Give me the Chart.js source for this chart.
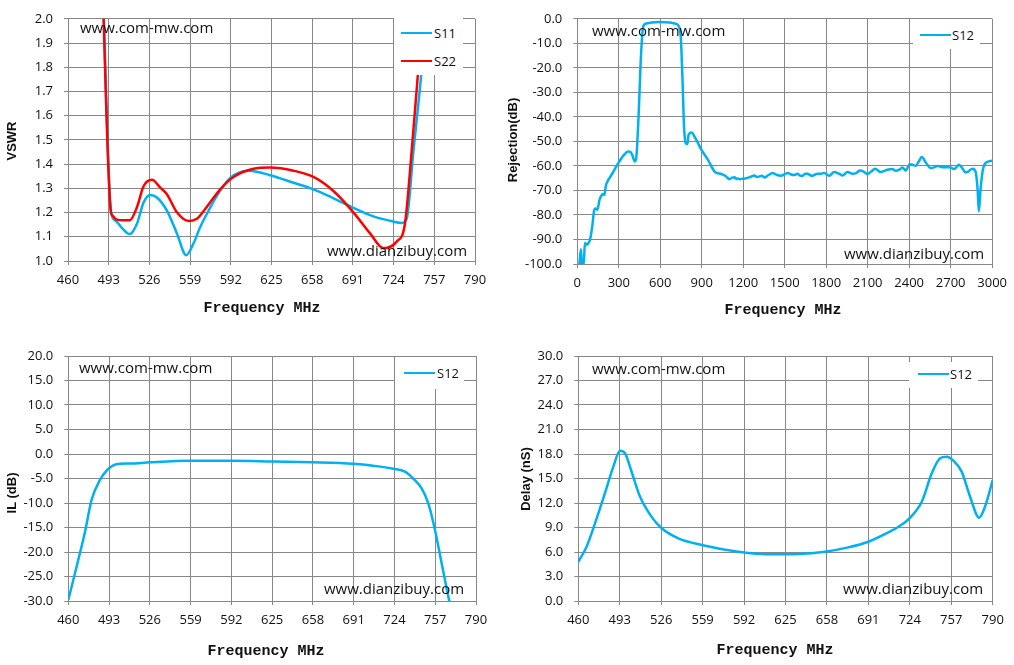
<!DOCTYPE html>
<html>
<head>
<meta charset="utf-8">
<script src="https://cdn.jsdelivr.net/npm/chart.js@4.4.1/dist/chart.umd.min.js"></script>
<style>
  html, body { margin: 0; padding: 0; background: #fff; }
  #wrap { position: relative; width: 1014px; height: 665px; overflow: hidden; background: #fff; }
  canvas { position: absolute; }
  .wm { position: absolute; font: 15px 'Open Sans', sans-serif; line-height: 20px; color: #111; white-space: nowrap; }
  .ytitle { position: absolute; font: bold 13px 'Liberation Sans', Arial, sans-serif; color: #111; white-space: nowrap;
            transform: translate(-50%, -50%) rotate(-90deg); }
  .xtitle { position: absolute; font: bold 15px 'Liberation Mono', monospace; color: #111; white-space: nowrap;
            transform: translate(-50%, -50%); }
  .lgbox { position: absolute; background: #fff; }
  .lgline { position: absolute; height: 2.5px; }
  .lgtext { position: absolute; font: 13px 'Open Sans', sans-serif; line-height: 18px; color: #111; }
</style>
</head>
<body>
<div id="wrap">
  <canvas id="vswr-chart" width="507" height="335" style="left:0;top:0"></canvas>
  <canvas id="rejection-chart" width="507" height="335" style="left:507px;top:0"></canvas>
  <canvas id="il-chart" width="507" height="330" style="left:0;top:335px"></canvas>
  <canvas id="delay-chart" width="507" height="330" style="left:507px;top:335px"></canvas>

  <!-- watermarks -->
  <div class="wm" style="left:80px;top:17px">www.com-mw.com</div>
  <div class="wm" style="left:327px;top:240px">www.dianzibuy.com</div>
  <div class="wm" style="left:592px;top:20px">www.com-mw.com</div>
  <div class="wm" style="left:844px;top:243px">www.dianzibuy.com</div>
  <div class="wm" style="left:79px;top:357px">www.com-mw.com</div>
  <div class="wm" style="left:324px;top:578px">www.dianzibuy.com</div>
  <div class="wm" style="left:592px;top:358px">www.com-mw.com</div>
  <div class="wm" style="left:843px;top:578px">www.dianzibuy.com</div>

  <!-- axis titles -->
  <div class="ytitle" style="left:11px;top:141px">VSWR</div>
  <div class="ytitle" style="left:512px;top:140px">Rejection(dB)</div>
  <div class="ytitle" style="left:11px;top:493px">IL (dB)</div>
  <div class="ytitle" style="left:525px;top:479px">Delay (nS)</div>
  <div class="xtitle" style="left:262px;top:308px">Frequency MHz</div>
  <div class="xtitle" style="left:783px;top:310px">Frequency MHz</div>
  <div class="xtitle" style="left:266px;top:651px">Frequency MHz</div>
  <div class="xtitle" style="left:775px;top:650px">Frequency MHz</div>

  <!-- legends -->
  <div class="lgbox" style="left:393.5px;top:18px;width:69.5px;height:57px"></div>
  <div class="lgline" style="left:401px;top:31.5px;width:31px;background:#00B0F0"></div>
  <div class="lgtext" style="left:434px;top:24px">S11</div>
  <div class="lgline" style="left:401px;top:59.5px;width:31px;background:#FF0000"></div>
  <div class="lgtext" style="left:434px;top:52px">S22</div>

  <div class="lgbox" style="left:912.5px;top:19px;width:67px;height:30px"></div>
  <div class="lgline" style="left:920px;top:33.8px;width:31px;background:#00B0F0"></div>
  <div class="lgtext" style="left:952px;top:26px">S12</div>

  <div class="lgbox" style="left:395px;top:357px;width:69px;height:32px"></div>
  <div class="lgline" style="left:404px;top:371.5px;width:31px;background:#00B0F0"></div>
  <div class="lgtext" style="left:437px;top:364px">S12</div>

  <div class="lgbox" style="left:908.5px;top:362px;width:69px;height:26px"></div>
  <div class="lgline" style="left:918px;top:372.8px;width:31px;background:#00B0F0"></div>
  <div class="lgtext" style="left:950px;top:365px">S12</div>
</div>

<script>
// tick values
var bandTicks = [460, 493, 526, 559, 592, 625, 658, 691, 724, 757, 790];
var wideTicks = [0, 300, 600, 900, 1200, 1500, 1800, 2100, 2400, 2700, 3000];
var vswrTicks = [1.0, 1.1, 1.2, 1.3, 1.4, 1.5, 1.6, 1.7, 1.8, 1.9, 2.0];
var rejTicks = [-100, -90, -80, -70, -60, -50, -40, -30, -20, -10, 0];
var ilTicks = [-30, -25, -20, -15, -10, -5, 0, 5, 10, 15, 20];
var delayTicks = [0, 3, 6, 9, 12, 15, 18, 21, 24, 27, 30];

// VSWR S11
var s11Freq = [487.8, 495, 498.3, 504, 510, 515.9, 521.3, 526.7, 532.1, 540.2, 548.3, 555.9, 561.8, 567.2, 574,
               580.7, 591.5, 606.4, 623.9, 642.8, 659, 675.2, 691.4, 707.6, 721.1, 730.6, 734.6, 740, 746.8, 750.3, 751.5];
var s11Vswr = [2.2, 1.2, 1.168, 1.135, 1.111, 1.154, 1.242, 1.273, 1.262, 1.208, 1.114, 1.024, 1.073, 1.14, 1.208,
               1.269, 1.343, 1.373, 1.354, 1.323, 1.296, 1.259, 1.219, 1.184, 1.166, 1.157, 1.174, 1.45, 1.789, 2.0, 2.2];

// VSWR S22
var s22Freq = [487.6, 494.6, 496.5, 499, 505, 510, 515.9, 521.3, 528.1, 534.8, 540.2, 548.3, 557.8, 564.5, 571.3, 583.4,
               594.2, 610.4, 623.9, 642.8, 659, 675.2, 691.4, 704.9, 715.7, 726.5, 733.2, 738.6, 744, 746.8, 747.5];
var s22Vswr = [2.2, 1.21, 1.185, 1.172, 1.168, 1.168, 1.222, 1.309, 1.335, 1.303, 1.276, 1.201, 1.165, 1.174, 1.215, 1.296,
               1.347, 1.381, 1.386, 1.373, 1.347, 1.289, 1.201, 1.114, 1.053, 1.08, 1.154, 1.451, 1.789, 2.0, 2.2];

// wide band rejection S12
var rejFreq = [15, 26, 34, 46, 55, 70, 80, 92, 108, 123, 133, 145, 160, 171, 183, 195, 207, 219, 248, 296,
               332, 368, 385, 397, 416, 424, 431, 445, 459, 476, 500, 540, 584, 640, 681, 710, 728, 748, 760, 772,
               784, 796, 805, 825, 854, 897, 945, 993, 1041, 1070, 1101, 1120, 1137, 1150, 1161, 1173, 1197, 1222, 1250, 1281,
               1300, 1317, 1335, 1354, 1380, 1413, 1440, 1474, 1500, 1522, 1545, 1570, 1594, 1612, 1630, 1648, 1666, 1684, 1702, 1720,
               1738, 1760, 1786, 1822, 1858, 1894, 1918, 1954, 1990, 2020, 2044, 2070, 2099, 2125, 2154, 2195, 2220, 2243, 2279, 2303,
               2330, 2351, 2375, 2404, 2425, 2447, 2470, 2491, 2520, 2556, 2580, 2604, 2630, 2652, 2680, 2700, 2724, 2742, 2760, 2785,
               2808, 2830, 2856, 2880, 2895, 2904, 2916, 2933, 2964, 3000];
var rejDb = [-100.5, -94, -100.5, -100.5, -91.4, -92.1, -91.5, -90.1, -84.7, -77.9, -77.4, -77.9, -74, -72.4, -71.5, -71.8, -68, -66.3, -63.6, -58.9,
             -55.9, -54.1, -54.3, -55.5, -58.2, -57.5, -53.4, -37.2, -16.8, -3.3, -1.9, -1.5, -1.35, -1.4, -1.6, -2, -2.6, -7.3, -23.6, -44,
             -50.7, -51.1, -47.3, -46.4, -48.7, -53.4, -57.5, -62.3, -63.3, -64, -65.4, -64.8, -64.6, -65.3, -65.1, -65.4, -65.2, -65, -64.5, -63.9,
             -64.5, -64.3, -64, -64.7, -63.8, -62.9, -63.6, -64, -63.4, -62.9, -63.5, -63.7, -63.2, -64, -64, -63.2, -63.2, -63.8, -64, -63.5,
             -63.2, -63.2, -62.9, -64, -62.5, -63.2, -63.9, -62.5, -63.2, -62.8, -61.9, -62.3, -63.3, -62.3, -61.2, -62.5, -62, -61.6, -61.3, -62,
             -61.5, -60.6, -61.9, -59.3, -59.5, -60, -58.2, -56.4, -58.6, -60.9, -60.6, -60, -60.4, -60.5, -60.5, -60.6, -61.3, -60.5, -59.5, -61,
             -62.7, -62.2, -61.2, -62.3, -69.7, -78.5, -69.7, -61.6, -58.4, -57.9];

// insertion loss S12
var ilFreq = [460, 466.7, 473.5, 478.9, 485.6, 491, 496.4, 501.8, 509.9, 526.1, 558.5, 590.9, 625.9, 658.3, 690.7,
              706.9, 723.1, 732.5, 739.2, 746, 751.4, 756.8, 762.2, 768.4, 769.5];
var ilDb = [-29.8, -23, -15.9, -9.3, -5.3, -3.4, -2.3, -2.0, -1.95, -1.7, -1.4, -1.4, -1.55, -1.7, -2.0,
            -2.4, -3.0, -3.6, -5.0, -7.0, -10.1, -15.5, -22.3, -30, -31];

// group delay S12
var delayFreq = [460, 466.6, 473.3, 481.2, 487.9, 493.2, 497.2, 502.5, 509.1, 518.4, 526.4, 539.7, 558.2, 587.4, 614,
                 635.2, 656.5, 675, 691, 706.9, 715, 722.9, 733.5, 741.5, 748.1, 753.4, 758.7, 765.3, 772, 779.2, 783.9, 790];
var delayNs = [4.8, 6.65, 9.5, 13.2, 16.45, 18.4, 18.1, 15.8, 12.8, 10.3, 8.9, 7.67, 6.86, 6.04, 5.71,
               5.75, 6.04, 6.57, 7.26, 8.4, 9.1, 10.0, 12.16, 15.63, 17.47, 17.67, 17.18, 15.84, 12.77, 10.2, 11.55, 14.8];

var BLUE = '#00B0F0';
var RED = '#FF0000';
var GRID = '#878787';

function pts(xs, ys) {
    return xs.map(function(x, i) { return { x: x, y: ys[i] }; });
}

function series(label, xs, ys, color) {
    return {
        label: label,
        data: pts(xs, ys),
        borderColor: color,
        backgroundColor: color,
        borderWidth: 2.5,
        pointRadius: 0,
        showLine: true,
        cubicInterpolationMode: 'monotone'
    };
}

function setTicks(list) {
    return function(scale) {
        scale.ticks = list.map(function(v) { return { value: v }; });
    };
}

function axes(o) {
    var tickFont = { family: 'Open Sans', size: 13 };
    return {
        x: {
            type: 'linear',
            min: o.xTicks[0],
            max: o.xTicks[o.xTicks.length - 1],
            afterBuildTicks: setTicks(o.xTicks),
            afterFit: function(s) { s.height = o.xh; },
            ticks: {
                color: '#111', font: tickFont, padding: 7, maxRotation: 0, autoSkip: false,
                callback: function(v) { return String(v); }
            },
            grid: { color: GRID, lineWidth: 1, tickLength: 4 },
            border: { color: GRID, width: 1 }
        },
        y: {
            type: 'linear',
            min: o.yTicks[0],
            max: o.yTicks[o.yTicks.length - 1],
            afterBuildTicks: setTicks(o.yTicks),
            afterFit: function(s) { s.width = o.yw; },
            ticks: {
                color: '#111', font: tickFont, padding: 11, autoSkip: false,
                callback: function(v) { return Number(v).toFixed(1); }
            },
            grid: { color: GRID, lineWidth: 1, tickLength: 4 },
            border: { color: GRID, width: 1 }
        }
    };
}

function makeChart(id, datasets, o) {
    var ctx = document.getElementById(id);
    return new Chart(ctx, {
        type: 'scatter',
        data: { datasets: datasets },
        options: {
            responsive: false,
            animation: false,
            devicePixelRatio: 1,
            layout: { padding: o.pad },
            plugins: { legend: { display: false }, tooltip: { enabled: false } },
            scales: axes(o)
        }
    });
}

// VSWR chart (S22 first so the red trace sits on top)
makeChart('vswr-chart', [
    series('S22', s22Freq, s22Vswr, RED),
    series('S11', s11Freq, s11Vswr, BLUE)
], { xTicks: bandTicks, yTicks: vswrTicks, yw: 68, xh: 74, pad: { top: 15, right: 32, left: 0, bottom: 0 } });

// Rejection chart
makeChart('rejection-chart', [
    series('S12', rejFreq, rejDb, BLUE)
], { xTicks: wideTicks, yTicks: rejTicks, yw: 70.3, xh: 71, pad: { top: 18.7, right: 20.7, left: 0, bottom: 0 } });

// Insertion loss chart
makeChart('il-chart', [
    series('S12', ilFreq, ilDb, BLUE)
], { xTicks: bandTicks, yTicks: ilTicks, yw: 68.3, xh: 64, pad: { top: 21, right: 31, left: 0, bottom: 0 } });

// Delay chart
makeChart('delay-chart', [
    series('S12', delayFreq, delayNs, BLUE)
], { xTicks: bandTicks, yTicks: delayTicks, yw: 71.3, xh: 64, pad: { top: 21, right: 21.3, left: 0, bottom: 0 } });
</script>
</body>
</html>
